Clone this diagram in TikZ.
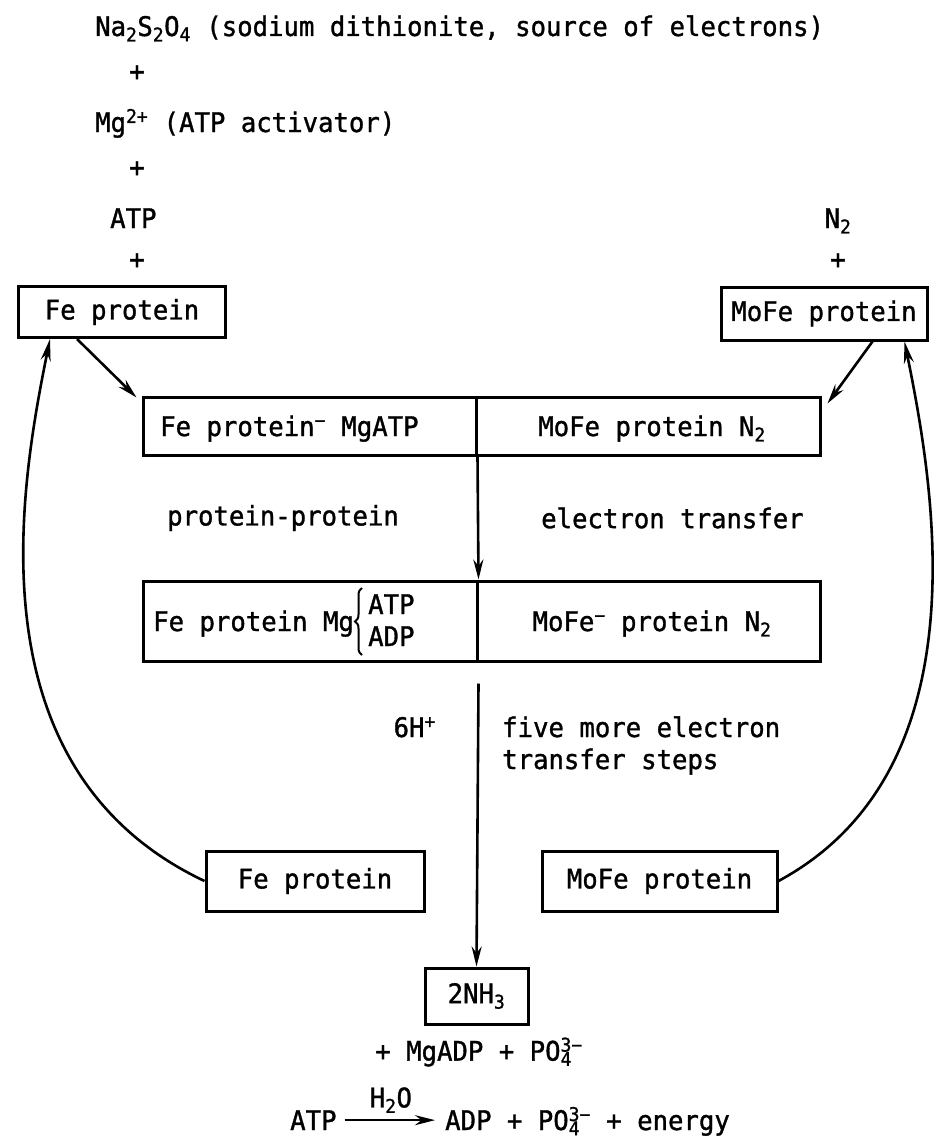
\documentclass[tikz,border=0pt]{standalone}
\usepackage{fontspec}
\newfontfamily\diagfont{DejaVu Sans Mono}[FakeStretch=0.95, FakeBold=1.2]
\usetikzlibrary{arrows.meta,calc,decorations.pathreplacing}
\newcommand{\subsupx}[2]{\makebox[0pt][l]{\textsubscript{#1}}\textsuperscript{#2}}
\begin{document}
\begin{tikzpicture}[x=1pt,y=-1pt,
  lbl/.style={font=\diagfont\fontsize{27}{31}\selectfont, inner sep=0pt},
  box/.style={lbl, draw, line width=3pt},
  arr/.style={line width=2.6pt, -{Stealth[length=20pt,width=10pt]}},
  ret/.style={line width=2.6pt, -{Stealth[length=22pt,width=10pt]}},
  bracestyle/.style={line width=2pt, decorate, decoration={brace, amplitude=7pt}}]
\useasboundingbox (0,0) rectangle (943,1145);

% reactants
\node[lbl, anchor=base west] (na) at (95,36) {Na\textsubscript{2}S\textsubscript{2}O\textsubscript{4} (sodium dithionite, source of electrons)};
\node[lbl] (p1) at (137,73) {+};
\node[lbl, anchor=base west] (mg) at (95,132) {Mg\textsuperscript{2+} (ATP activator)};
\node[lbl] (p2) at (137,169) {+};
\node[lbl, anchor=base west] (atp) at (110,228) {ATP};
\node[lbl] (p3) at (137,261) {+};
\node[lbl, anchor=base] (n2) at (838,228) {N\textsubscript{2}};
\node[lbl] (p4) at (838,261) {+};

% upper boxes
\node[box, minimum width=207pt, minimum height=51pt] (fe) at (122,312) {Fe protein};
\node[box, minimum width=206pt, minimum height=53pt] (mofe) at (824,313.5) {MoFe protein};

% first complex
\node[box, minimum width=333pt, minimum height=58pt] (b1l) at (309.5,426) {};
\node[box, minimum width=344pt, minimum height=58pt] (b1r) at (648,426) {};
\node[lbl, anchor=base west] (b1lt) at (160,436) {Fe protein\textsuperscript{−} MgATP};
\node[lbl, anchor=base] (b1rt) at (652,436) {MoFe protein N\textsubscript{2}};

\node[lbl] (pp) at (283,518) {protein-protein};
\node[lbl, anchor=west] (et) at (541,518) {electron transfer};

% second complex
\node[box, minimum width=334pt, minimum height=80pt] (b2l) at (310,621) {};
\node[box, minimum width=343pt, minimum height=80pt] (b2r) at (648.5,621) {};
\node[lbl, anchor=base west] (b2lt) at (153,631) {Fe protein Mg};
\coordinate (brbot) at (362,655);
\coordinate (brtop) at (362,588);
\draw[bracestyle] (brbot) -- (brtop);
\node[lbl, anchor=base west] (atp2) at (368,614) {ATP};
\node[lbl, anchor=base west] (adp2) at (368,646) {ADP};
\node[lbl, anchor=base] (b2rt) at (652,631) {MoFe\textsuperscript{−} protein N\textsubscript{2}};

\node[lbl, anchor=base east] (h6) at (436,737) {6H\textsuperscript{+}};
\node[lbl, anchor=base west] (five) at (502,737) {five more electron};
\node[lbl, anchor=base west] (steps) at (502,769) {transfer steps};

% lower boxes
\node[box, minimum width=218pt, minimum height=60pt] (fel) at (315,881) {Fe protein};
\node[box, minimum width=235pt, minimum height=60pt] (mofel) at (659.5,881) {MoFe protein};

\node[box, minimum width=103pt, minimum height=56pt] (nh3) at (476.5,996) {2NH\textsubscript{3}};
\node[lbl] (prod) at (479,1052) {+ MgADP + PO\subsupx{4}{3−}};

% equation
\node[lbl, anchor=base west] (eatp) at (290,1130) {ATP};
\node[lbl, anchor=base west] (erest) at (445,1130) {ADP + PO\subsupx{4}{3−} + energy};
\draw[arr, shorten <=8pt, shorten >=10pt] (eatp.east) -- (erest.west |- eatp.east)
  node[midway, above=6pt, lbl] (h2o) {H\textsubscript{2}O};

% connectors
\draw[arr] ($(fe.south west)+(60,0)$) -- ($(b1l.north west)+(-5,2)$);
\draw[arr] ($(mofe.south west)+(153,0)$) -- ($(b1r.north east)+(6,8)$);
\draw[arr] (b1l.south east) -- (b2l.north east);
\draw[arr] ($(b2l.south east)+(0,21)$) -- (nh3.north);

% return curves
\draw[ret] (fel.west) .. controls (-30,770) and (20,487) .. ($(fe.south west)+(33,0)$);
\draw[ret] (mofel.east) .. controls (984,770) and (934,487) .. ($(mofe.south east)+(-24,0)$);
\end{tikzpicture}
\end{document}
